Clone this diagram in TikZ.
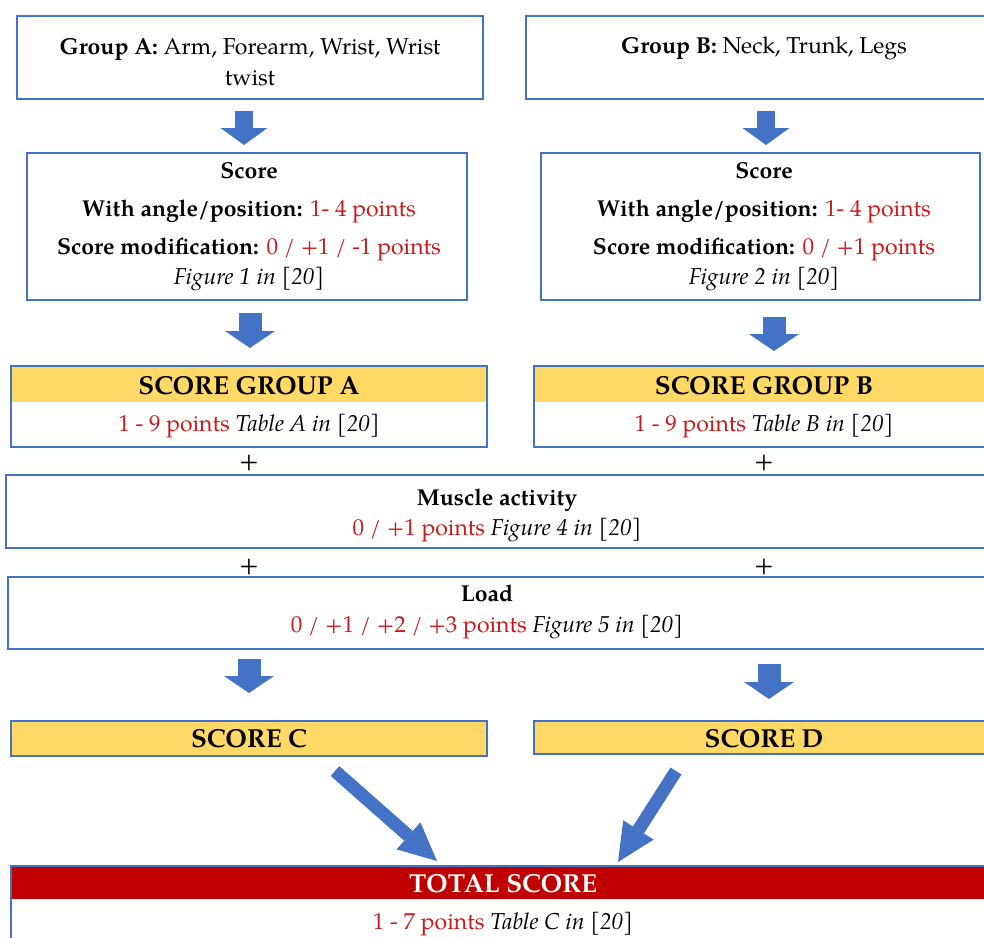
\documentclass[tikz,border=0pt]{standalone}
\usepackage{fontspec}
\setmainfont{TeX Gyre Pagella}
\usetikzlibrary{arrows.meta}
\definecolor{boxblue}{HTML}{4472C4}
\definecolor{arrblue}{HTML}{4472C4}
\definecolor{hdryellow}{HTML}{FFD966}
\definecolor{hdrred}{HTML}{C00000}
\definecolor{txtred}{HTML}{CC1A1A}
\begin{document}
\begin{tikzpicture}[x=0.5pt,y=-0.5pt,
  box/.style={draw=boxblue,line width=1pt,rectangle,anchor=north west,inner sep=0pt,outer sep=0pt},
  hdr/.style={fill=#1,rectangle,anchor=north west,inner sep=0pt,outer sep=0pt},
  txt/.style={anchor=base,inner sep=0pt,font=\fontsize{11.5}{15.5}\selectfont,align=center},
  htxt/.style={anchor=base,inner sep=0pt,font=\fontsize{13}{15}\selectfont\bfseries},
  plus/.style={anchor=center,inner sep=0pt,font=\fontsize{13}{15}\selectfont},
  arrA/.style={draw=arrblue,line width=9pt,-{Triangle[width=23.5pt,length=8.5pt,line width=0pt]}},
  arrB/.style={draw=arrblue,line width=11.5pt,-{Triangle[width=25pt,length=8.5pt,line width=0pt]}},
  arrC/.style={draw=arrblue,line width=6.5pt,-{Triangle[width=18pt,length=19pt,line width=0pt]}}
]
\clip (0,0) rectangle (984,937);
\fill[white] (0,0) rectangle (984,937);

% top boxes
\node[box,minimum width=233pt,minimum height=41.5pt] (grpA) at (17,16) {};
\node[box,minimum width=238pt,minimum height=41.5pt] (grpB) at (526,16) {};
\node[txt] (tgA) at (250,85) {\textbf{Group A:} Arm, Forearm, Wrist, Wrist\\twist};
\node[txt] (tgB) at (764,54) {\textbf{Group B:} Neck, Trunk, Legs};

% score boxes
\node[box,minimum width=220pt,minimum height=73.5pt] (scA) at (27,153) {};
\node[box,minimum width=219.5pt,minimum height=73.5pt] (scB) at (541,153) {};
\node[txt] (sA1) at (249,178) {\textbf{Score}};
\node[txt] (sA2) at (249,216) {\textbf{With angle/position:} \textcolor{txtred}{1- 4 points}};
\node[txt] (sA3) at (249,254) {\textbf{Score modification:} \textcolor{txtred}{0 / +1 / -1 points}};
\node[txt] (sA4) at (249,284) {\textit{Figure 1 in [20]}};
\node[txt] (sB1) at (764,178) {\textbf{Score}};
\node[txt] (sB2) at (764,216) {\textbf{With angle/position:} \textcolor{txtred}{1- 4 points}};
\node[txt] (sB3) at (764,254) {\textbf{Score modification:} \textcolor{txtred}{0 / +1 points}};
\node[txt] (sB4) at (764,284) {\textit{Figure 2 in [20]}};

% score groups
\node[hdr=hdryellow,minimum width=238pt,minimum height=18pt] (hA) at (11,366) {};
\node[box,minimum width=238pt,minimum height=40.5pt] (sgA) at (11,366) {};
\node[hdr=hdryellow,minimum width=230pt,minimum height=18pt] (hB) at (534,366) {};
\node[box,minimum width=230pt,minimum height=40.5pt] (sgB) at (534,366) {};
\node[htxt] (tsgA) at (249,394) {SCORE GROUP A};
\node[htxt] (tsgB) at (764,394) {SCORE GROUP B};
\node[txt] (vsgA) at (249,431) {\textcolor{txtred}{1 - 9 points} \textit{Table A in [20]}};
\node[txt] (vsgB) at (764,431) {\textcolor{txtred}{1 - 9 points} \textit{Table B in [20]}};

\node[plus] (p1) at (249,463) {+};
\node[plus] (p2) at (764,463) {+};

% muscle activity
\node[box,minimum width=495pt,minimum height=36.5pt] (mus) at (6,475) {};
\node[txt] (tm1) at (497,505) {\textbf{Muscle activity}};
\node[txt] (tm2) at (497,535) {\textcolor{txtred}{0 / +1 points} \textit{Figure 4 in [20]}};

\node[plus] (p3) at (249,567) {+};
\node[plus] (p4) at (764,567) {+};

% load
\node[box,minimum width=495pt,minimum height=36pt] (load) at (8,577) {};
\node[txt] (tl1) at (487,601) {\textbf{Load}};
\node[txt] (tl2) at (487,632) {\textcolor{txtred}{0 / +1 / +2 / +3 points} \textit{Figure 5 in [20]}};

% score C / D
\node[box,fill=hdryellow,minimum width=238pt,minimum height=17.5pt] (scC) at (11,721) {};
\node[box,fill=hdryellow,minimum width=230pt,minimum height=16.5pt] (scD) at (534,721) {};
\node[htxt] (tC) at (249,747) {SCORE C};
\node[htxt] (tD) at (764,747) {SCORE D};

% total
\node[hdr=hdrred,minimum width=492pt,minimum height=16.5pt] (htot) at (11,866) {};
\node[box,minimum width=492pt,minimum height=50pt] (tot) at (11,866) {};
\node[htxt,text=white] (tt1) at (503,892) {TOTAL SCORE};
\node[txt] (tt2) at (503,929) {\textcolor{txtred}{1 - 7 points} \textit{Table C in [20]}};

% arrows
\draw[arrA] ([shift={(-6,12)}]grpA.south) -- ([shift={(-3,-8)}]scA.north);
\draw[arrA] ([shift={(2,12)}]grpB.south) -- ([shift={(5.5,-8)}]scB.north);
\draw[arrB] ([shift={(3,13)}]scA.south) -- ([shift={(1,-18)}]sgA.north);
\draw[arrB] ([shift={(13.5,17)}]scB.south) -- ([shift={(10,-15)}]sgB.north);
\draw[arrB] ([shift={(-254,10)}]load.south) -- ([shift={(0,-28)}]scC.north);
\draw[arrB] ([shift={(266,15)}]load.south) -- ([shift={(5,-22)}]scD.north);
\draw[arrC] ([shift={(86,15)}]scC.south) -- ([shift={(-66,-5)}]tot.north);
\draw[arrC] ([shift={(-88,17)}]scD.south) -- ([shift={(115,-4)}]tot.north);
\end{tikzpicture}
\end{document}
